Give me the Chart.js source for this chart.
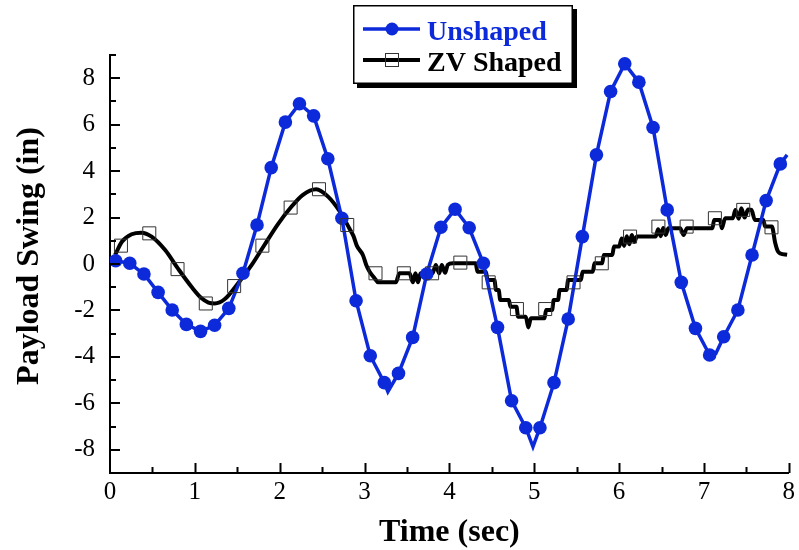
<!DOCTYPE html>
<html>
<head>
<meta charset="utf-8">
<title>Payload Swing</title>
<script src="https://cdn.jsdelivr.net/npm/chart.js@4.4.1/dist/chart.umd.min.js"></script>
<style>
  html, body { margin: 0; padding: 0; background: #ffffff; }
  #wrap { width: 799px; height: 550px; }
</style>
</head>
<body>
<div id="wrap"><canvas id="swingChart" width="799" height="550"></canvas></div>
<script>
// unshaped response: sampled points (drawn with filled circles)
const unshapedMarkTime = [
  0.067, 0.233, 0.400, 0.567, 0.733, 0.900, 1.067, 1.233, 1.400, 1.567, 1.733, 1.900,
  2.067, 2.233, 2.400, 2.567, 2.733, 2.900, 3.067, 3.233, 3.400, 3.567, 3.733, 3.900,
  4.067, 4.233, 4.400, 4.567, 4.733, 4.900, 5.067, 5.233, 5.400, 5.567, 5.733, 5.900,
  6.067, 6.233, 6.400, 6.567, 6.733, 6.900, 7.067, 7.233, 7.400, 7.567, 7.733, 7.900
];
const unshapedMarkSwing = [
  0.14, 0.03, -0.43, -1.22, -1.98, -2.60, -2.90, -2.64, -1.91, -0.40, 1.68, 4.15,
  6.11, 6.90, 6.38, 4.53, 1.97, -1.58, -3.95, -5.11, -4.71, -3.16, -0.43, 1.58,
  2.36, 1.56, 0.03, -2.73, -5.89, -7.05, -7.05, -5.11, -2.37, 1.18, 4.70, 7.43,
  8.62, 7.83, 5.88, 2.33, -0.79, -2.77, -3.92, -3.13, -1.98, 0.39, 2.73, 4.31
];
// extra trace points between samples (spikes and end of record)
const unshapedExtraTime  = [3.275, 4.985, 7.14, 7.98];
const unshapedExtraSwing = [-5.50, -7.87, -3.85, 4.70];

// ZV shaped response: sampled points (drawn with open squares)
const zvMarkTime = [
  0.129, 0.463, 0.796, 1.129, 1.463, 1.796, 2.129, 2.463, 2.796, 3.129, 3.463, 3.796,
  4.129, 4.463, 4.796, 5.129, 5.463, 5.796, 6.129, 6.463, 6.796, 7.129, 7.463, 7.796
];
const zvMarkSwing = [
  0.79, 1.32, -0.22, -1.70, -0.95, 0.79, 2.43, 3.22, 1.68, -0.40, -0.40, -0.40,
  0.06, -0.79, -1.94, -1.94, -0.79, 0.03, 1.18, 1.61, 1.61, 1.97, 2.33, 1.58
];
// ZV shaped full trace
const zvTime = [
  0.06, 0.14, 0.255, 0.37, 0.49, 0.65, 0.80, 0.96, 1.08, 1.16, 1.235, 1.35, 1.51, 1.67, 1.82, 1.98,
  2.13, 2.27, 2.43, 2.57, 2.71, 2.82, 2.87, 2.91, 2.98, 3.02, 3.06, 3.12, 3.16, 3.37, 3.41, 3.53,
  3.57, 3.60, 3.63, 3.66, 3.80, 3.84, 3.88, 3.91, 3.95, 3.98, 4.04, 4.31, 4.33, 4.43, 4.45, 4.53,
  4.55, 4.58, 4.60, 4.70, 4.72, 4.79, 4.81, 4.90, 4.93, 4.96, 5.12, 5.14, 5.21, 5.23, 5.28, 5.30,
  5.38, 5.40, 5.55, 5.57, 5.69, 5.71, 5.80, 5.82, 5.92, 5.94, 6.00, 6.03, 6.06, 6.09, 6.12, 6.15,
  6.18, 6.21, 6.43, 6.46, 6.49, 6.52, 6.55, 6.58, 6.72, 6.76, 6.80, 7.10, 7.12, 7.19, 7.21, 7.25,
  7.34, 7.37, 7.41, 7.44, 7.48, 7.52, 7.56, 7.60, 7.70, 7.72, 7.80, 7.84, 7.87, 7.90, 7.98
];
const zvSwing = [
  0.39, 0.96, 1.28, 1.35, 1.18, 0.60, -0.19, -0.98, -1.48, -1.66, -1.70, -1.52, -0.83, -0.04, 0.82, 1.72,
  2.43, 2.97, 3.22, 2.90, 2.25, 1.54, 1.20, 0.78, 0.39, -0.04, -0.33, -0.62, -0.79, -0.79, -0.40, -0.40,
  -0.79, -0.40, -0.79, -0.40, -0.40, -0.04, -0.40, -0.04, -0.38, -0.04, 0.03, 0.03, -0.33, -0.33, -0.69, -0.69,
  -1.12, -1.12, -1.55, -1.55, -1.84, -1.84, -2.27, -2.27, -2.73, -2.34, -2.34, -1.98, -1.98, -1.55, -1.55, -1.12,
  -1.12, -0.69, -0.69, -0.33, -0.33, 0.03, 0.03, 0.39, 0.39, 0.75, 0.75, 1.10, 0.78, 1.20, 0.85, 1.25,
  0.95, 1.18, 1.18, 1.50, 1.20, 1.55, 1.25, 1.54, 1.54, 1.25, 1.54, 1.54, 1.90, 1.90, 1.54, 1.97,
  1.97, 2.33, 1.95, 2.40, 2.00, 2.35, 2.33, 1.90, 1.90, 1.62, 1.62, 0.90, 0.55, 0.45, 0.40
];

const timeTicks  = [0, 1, 2, 3, 4, 5, 6, 7, 8];
const swingTicks = [-8, -6, -4, -2, 0, 2, 4, 6, 8];

const BLUE = 'rgb(12, 42, 218)';
const SERIF = "'Liberation Serif', 'Times New Roman', serif";

function toPoints(xs, ys) {
  return xs.map((x, i) => ({ x: x, y: ys[i] }));
}

// unshaped trace = samples + extra points, in time order
const unshapedTrace = toPoints(unshapedMarkTime, unshapedMarkSwing)
  .concat(toPoints(unshapedExtraTime, unshapedExtraSwing))
  .sort((a, b) => a.x - b.x);

// inward tick marks, major and minor
const innerTicks = {
  id: 'innerTicks',
  afterDatasetsDraw(chart) {
    const { ctx, scales: { x, y } } = chart;
    ctx.save();
    ctx.strokeStyle = '#000';
    ctx.lineWidth = 2;
    ctx.beginPath();
    for (let v = x.min + 0.5; v <= x.max + 1e-6; v += 0.5) {
      const px = Math.round(x.getPixelForValue(v)) + 0.5;
      const len = Number.isInteger(v) ? 10 : 6;
      ctx.moveTo(px, x.top);
      ctx.lineTo(px, x.top - len);
    }
    for (let v = y.min; v <= y.max; v++) {
      const py = Math.round(y.getPixelForValue(v));
      const len = v % 2 === 0 ? 10 : 6;
      ctx.moveTo(y.right, py);
      ctx.lineTo(y.right + len, py);
    }
    ctx.stroke();
    ctx.restore();
  }
};

// axis titles
const axisTitles = {
  id: 'axisTitles',
  afterDraw(chart) {
    const { ctx, chartArea } = chart;
    ctx.save();
    ctx.fillStyle = '#000';
    ctx.font = 'bold 32px ' + SERIF;
    ctx.textAlign = 'center';
    ctx.textBaseline = 'alphabetic';
    ctx.fillText('Time (sec)', (chartArea.left + chartArea.right) / 2, 541);
    ctx.translate(38, 256);
    ctx.rotate(-Math.PI / 2);
    ctx.fillText('Payload Swing (in)', 0, 0);
    ctx.restore();
  }
};

// boxed legend with drop shadow
const boxLegend = {
  id: 'boxLegend',
  afterDraw(chart) {
    const ctx = chart.ctx;
    const bx = 353, by = 5, bw = 220, bh = 79;
    ctx.save();
    ctx.fillStyle = '#000';
    ctx.fillRect(bx + 4, by + 4, bw, bh);
    ctx.fillStyle = '#fff';
    ctx.fillRect(bx, by, bw, bh);
    ctx.strokeStyle = '#000';
    ctx.lineWidth = 1.5;
    ctx.strokeRect(bx + 0.75, by + 0.75, bw - 1.5, bh - 1.5);

    const rows = [
      { label: chart.data.datasets[2].label, color: BLUE, width: 3.5, y: 29, base: 40, mark: 'circle' },
      { label: chart.data.datasets[3].label, color: '#000', width: 4, y: 60, base: 71, mark: 'rect' }
    ];
    rows.forEach(r => {
      ctx.strokeStyle = r.color;
      ctx.lineWidth = r.width;
      ctx.beginPath();
      ctx.moveTo(363, r.y);
      ctx.lineTo(420, r.y);
      ctx.stroke();
      if (r.mark === 'circle') {
        ctx.fillStyle = BLUE;
        ctx.beginPath();
        ctx.arc(392, r.y, 6.5, 0, Math.PI * 2);
        ctx.fill();
      } else {
        ctx.strokeStyle = '#333';
        ctx.lineWidth = 1;
        ctx.strokeRect(385.5, r.y - 6.5, 13, 13);
      }
      ctx.fillStyle = r.color;
      ctx.font = 'bold 28px ' + SERIF;
      ctx.textAlign = 'left';
      ctx.textBaseline = 'alphabetic';
      ctx.fillText(r.label, 427, r.base);
    });
    ctx.restore();
  }
};

new Chart(document.getElementById('swingChart'), {
  type: 'line',
  data: {
    datasets: [
      {
        label: 'ZV Shaped marks',
        data: toPoints(zvMarkTime, zvMarkSwing),
        showLine: false,
        pointStyle: 'rect',
        pointRadius: 9.2,
        pointBorderWidth: 1,
        pointBorderColor: '#333',
        pointBackgroundColor: 'rgba(0,0,0,0)'
      },
      {
        label: 'Unshaped marks',
        data: toPoints(unshapedMarkTime, unshapedMarkSwing),
        showLine: false,
        pointStyle: 'circle',
        pointRadius: 6.8,
        pointBorderWidth: 0,
        pointBackgroundColor: BLUE,
        pointBorderColor: BLUE
      },
      {
        label: 'Unshaped',
        data: unshapedTrace,
        borderColor: BLUE,
        borderWidth: 3.5,
        pointRadius: 0,
        tension: 0,
        fill: false
      },
      {
        label: 'ZV Shaped',
        data: toPoints(zvTime, zvSwing),
        borderColor: '#000',
        borderWidth: 4,
        pointRadius: 0,
        cubicInterpolationMode: 'monotone',
        fill: false
      }
    ]
  },
  options: {
    responsive: false,
    animation: false,
    layout: { padding: { top: 55, right: 9, left: 0, bottom: 0 } },
    plugins: {
      legend: { display: false },
      tooltip: { enabled: false }
    },
    scales: {
      x: {
        type: 'linear',
        min: 0,
        max: 8,
        afterBuildTicks: s => { s.ticks = timeTicks.map(v => ({ value: v })); },
        afterFit: s => { s.height = 77; s.paddingLeft = 0; s.paddingRight = 0; },
        grid: { display: false, drawTicks: false },
        border: { display: true, color: '#000', width: 2 },
        ticks: {
          color: '#000',
          padding: 4,
          maxRotation: 0,
          font: { family: SERIF, size: 25 }
        }
      },
      y: {
        type: 'linear',
        min: -9,
        max: 9,
        afterBuildTicks: s => { s.ticks = swingTicks.map(v => ({ value: v })); },
        afterFit: s => { s.width = 110; s.paddingTop = 0; s.paddingBottom = 0; },
        grid: { display: false, drawTicks: false },
        border: { display: true, color: '#000', width: 2 },
        ticks: {
          color: '#000',
          padding: 15,
          font: { family: SERIF, size: 25 }
        }
      }
    }
  },
  plugins: [innerTicks, axisTitles, boxLegend]
});
</script>
</body>
</html>
